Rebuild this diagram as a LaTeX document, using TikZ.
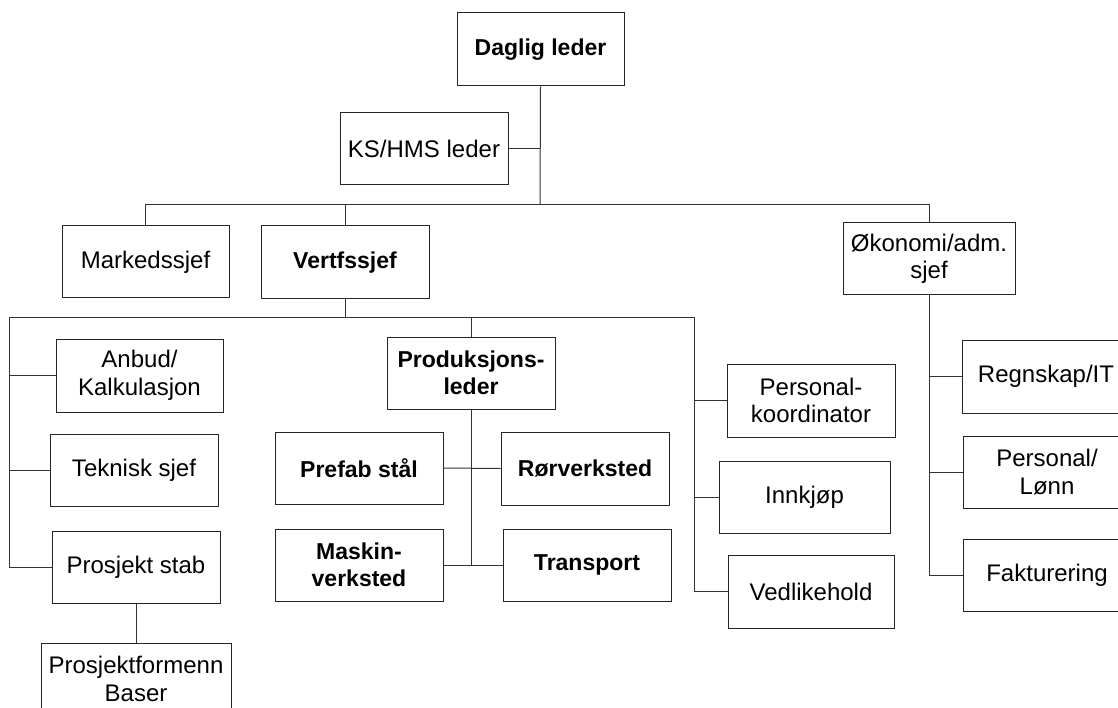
\documentclass[tikz,border=0pt]{standalone}
\usepackage{fontspec}
\setmainfont{Liberation Sans}
\begin{document}
\begin{tikzpicture}[x=1pt,y=-1pt,
  box/.style={draw=black!85, line width=1pt, inner sep=0pt, align=center,
    minimum width=168pt, minimum height=72pt, font=\fontsize{24}{27.5}\selectfont},
  bbox/.style={box, font=\fontsize{23}{27.5}\selectfont\bfseries},
  conn/.style={draw=black!80, line width=1pt}]
\useasboundingbox (0,0) rectangle (1118,708);
\clip (0,0) rectangle (1118,708);
% level 0-1
\node[bbox, minimum width=167pt, minimum height=73pt] (dl) at (540.5,49.5) {Daglig leder};
\node[box] (ks) at (424,149) {KS/HMS leder};
\node[box, minimum width=167pt] (mk) at (145.5,262) {Markedssjef};
\node[bbox, minimum height=73pt] (vf) at (345,262.5) {Vertfssjef};
\node[box, minimum width=172pt] (ok) at (929,259) {Økonomi/adm.\\sjef};
% Vertfssjef branch left
\node[box, minimum width=167pt, minimum height=73pt] (an) at (139.5,375.5) {Anbud/\\Kalkulasjon};
\node[box] (tk) at (134,470) {Teknisk sjef};
\node[box] (ps) at (136,567) {Prosjekt stab};
\node[box, minimum width=190pt] (pf) at (136,679) {Prosjektformenn\\Baser};
% production
\node[bbox] (pl) at (471,373) {Produksjons-\\leder};
\node[bbox] (pr) at (359,468) {Prefab stål};
\node[bbox, minimum height=73pt] (rv) at (585,468.5) {Rørverksted};
\node[bbox] (mv) at (359,565) {Maskin-\\verksted};
\node[bbox] (tr) at (587,565) {Transport};
% right of Vertfssjef
\node[box, minimum height=73pt] (pk) at (811,400.5) {Personal-\\koordinator};
\node[box, minimum width=171pt] (ik) at (804.5,497) {Innkjøp};
\node[box, minimum width=166pt, minimum height=73pt] (vd) at (811,591.5) {Vedlikehold};
% economy
\node[box, minimum height=73pt] (rg) at (1046,376.5) {Regnskap/IT};
\node[box] (pn) at (1047,472) {Personal/\\Lønn};
\node[box] (fk) at (1047,575) {Fakturering};
% coordinates
\coordinate (b1) at (540,205);
\coordinate (b2) at (345,318);
\coordinate (bl) at (9,318);
\coordinate (br) at (694,318);
\coordinate (pc) at (471,565);
\coordinate (oc) at (929,575);
% connectors
\draw[conn] (dl.south) -- (b1);
\draw[conn] (ks.east) -- (ks.east -| b1);
\draw[conn] (mk.north) |- (ok.north |- b1) -- (ok.north);
\draw[conn] (vf.north) -- (vf.north |- b1);
\draw[conn] (vf.south) -- (b2);
\draw[conn] (tk.west -| bl) |- (br) -- (vd.west -| br);
\draw[conn] (bl) |- (ps.west);
\draw[conn] (an.west -| bl) -- (an.west);
\draw[conn] (tk.west -| bl) -- (tk.west);
\draw[conn] (pl.north) -- (pl.north |- bl);
\draw[conn] (ps.south) -- (pf.north);
\draw[conn] (pl.south) -- (pc);
\draw[conn] (pr.east) -- (rv.west);
\draw[conn] (mv.east) -- (tr.west);
\draw[conn] (br |- pk.west) -- (pk.west);
\draw[conn] (br |- ik.west) -- (ik.west);
\draw[conn] (br |- vd.west) -- (vd.west);
\draw[conn] (ok.south) -- (oc);
\draw[conn] (oc |- rg.west) -- (rg.west);
\draw[conn] (oc |- pn.west) -- (pn.west);
\draw[conn] (oc) -- (fk.west);
\end{tikzpicture}
\end{document}
